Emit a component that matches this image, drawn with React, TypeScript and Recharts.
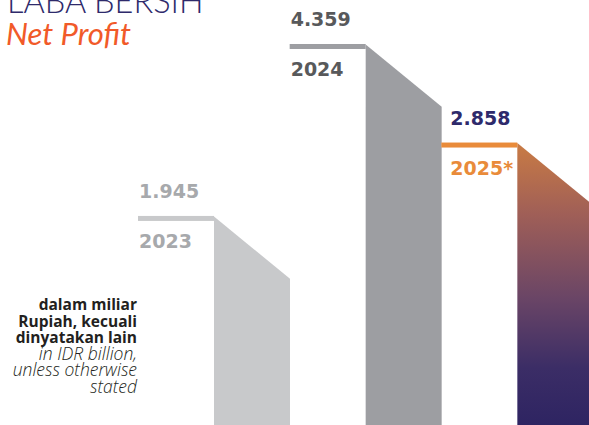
import React from 'react';
import { BarChart, Bar, XAxis, YAxis, LabelList } from 'recharts';

// ---- data ----
const years = ['2023', '2024', '2025*'];
const netProfit = [1.945, 4.359, 2.858];
const valueLabels = ['1.945', '4.359', '2.858'];

const noteBold = ['dalam miliar', 'Rupiah, kecuali', 'dinyatakan lain'];
const noteItalic = ['in IDR billion,', 'unless otherwise', 'stated'];

// ---- styles ----
const lineColors = ['#C8C9CB', '#9D9EA2', '#E98B3A'];
const bodyFills = ['#C8C9CB', '#9D9EA2', 'url(#npGrad)'];
const valueColors = ['#A7A9AC', '#58595B', '#2E2A6B'];
const yearColors = ['#A7A9AC', '#58595B', '#E98B3A'];
const labelShift = [1, 1, 9];

const data = years.map((year, i) => ({ year, value: netProfit[i], label: valueLabels[i] }));

const SlantBar = (props: any) => {
  const { x, y, width, height, index } = props;
  const half = width / 2;
  const mid = x + half;
  const bottom = y + height;
  const drop = half * 0.82;
  return (
    <g>
      <polygon
        points={`${mid},${y - 2.5} ${x + width},${y - 2.5 + drop} ${x + width},${bottom} ${mid},${bottom}`}
        fill={bodyFills[index]}
      />
      <rect x={x} y={y - 3} width={half} height={5} fill={lineColors[index]} />
    </g>
  );
};

const ValueLabel = (props: any) => {
  const { x, y, value, index } = props;
  return (
    <text
      x={x + labelShift[index]}
      y={y - 21}
      fontFamily="DejaVu Sans"
      fontWeight="bold"
      fontSize={19}
      fill={valueColors[index]}
    >
      {value}
    </text>
  );
};

const YearLabel = (props: any) => {
  const { x, y, value, index } = props;
  return (
    <text
      x={x + labelShift[index]}
      y={y + 29}
      fontFamily="DejaVu Sans"
      fontWeight="bold"
      fontSize={19}
      fill={yearColors[index]}
    >
      {value}
    </text>
  );
};

export default function App() {
  return (
    <div
      style={{
        position: 'fixed',
        top: 0,
        left: 0,
        width: 589,
        height: 425,
        overflow: 'hidden',
        background: '#ffffff',
      }}
    >
      <BarChart
        width={600}
        height={425}
        data={data}
        margin={{ top: 0, right: 7, bottom: 0, left: 138 }}
        barCategoryGap={0}
        barGap={0}
      >
        <defs>
          <linearGradient id="npGrad" x1="0" y1="0" x2="0" y2="1">
            <stop offset="0%" stopColor="#C97B44" />
            <stop offset="25%" stopColor="#A05F57" />
            <stop offset="55%" stopColor="#6A4566" />
            <stop offset="80%" stopColor="#3B2D66" />
            <stop offset="100%" stopColor="#2E2462" />
          </linearGradient>
        </defs>
        <XAxis dataKey="year" hide padding={{ left: 0, right: 0 }} />
        <YAxis hide type="number" scale="sqrt" domain={[0.318, 5.186]} allowDataOverflow />
        <Bar dataKey="value" isAnimationActive={false} shape={<SlantBar />}>
          <LabelList dataKey="label" content={<ValueLabel />} />
          <LabelList dataKey="year" content={<YearLabel />} />
        </Bar>
      </BarChart>
      <svg
        width={589}
        height={425}
        style={{ position: 'absolute', top: 0, left: 0, pointerEvents: 'none' }}
      >
        <text x={7} y={13} fontFamily="Lato" fontWeight={300} fontSize={32.5} fill="#2E2A6B">
          LABA BERSIH
        </text>
        <text x={6} y={45} fontFamily="Lato" fontStyle="italic" fontSize={31} fill="#F15A29">
          Net Profit
        </text>
        {noteBold.map((t, i) => (
          <text
            key={t}
            x={137}
            y={310 + i * 16.5}
            textAnchor="end"
            fontFamily="Open Sans"
            fontWeight={700}
            fontSize={15.5}
            fill="#231F20"
          >
            {t}
          </text>
        ))}
        {noteItalic.map((t, i) => (
          <text
            key={t}
            x={137}
            y={359.5 + i * 16.5}
            textAnchor="end"
            fontFamily="Open Sans"
            fontStyle="italic"
            fontWeight={300}
            fontSize={17.5}
            fill="#231F20"
          >
            {t}
          </text>
        ))}
      </svg>
    </div>
  );
}
